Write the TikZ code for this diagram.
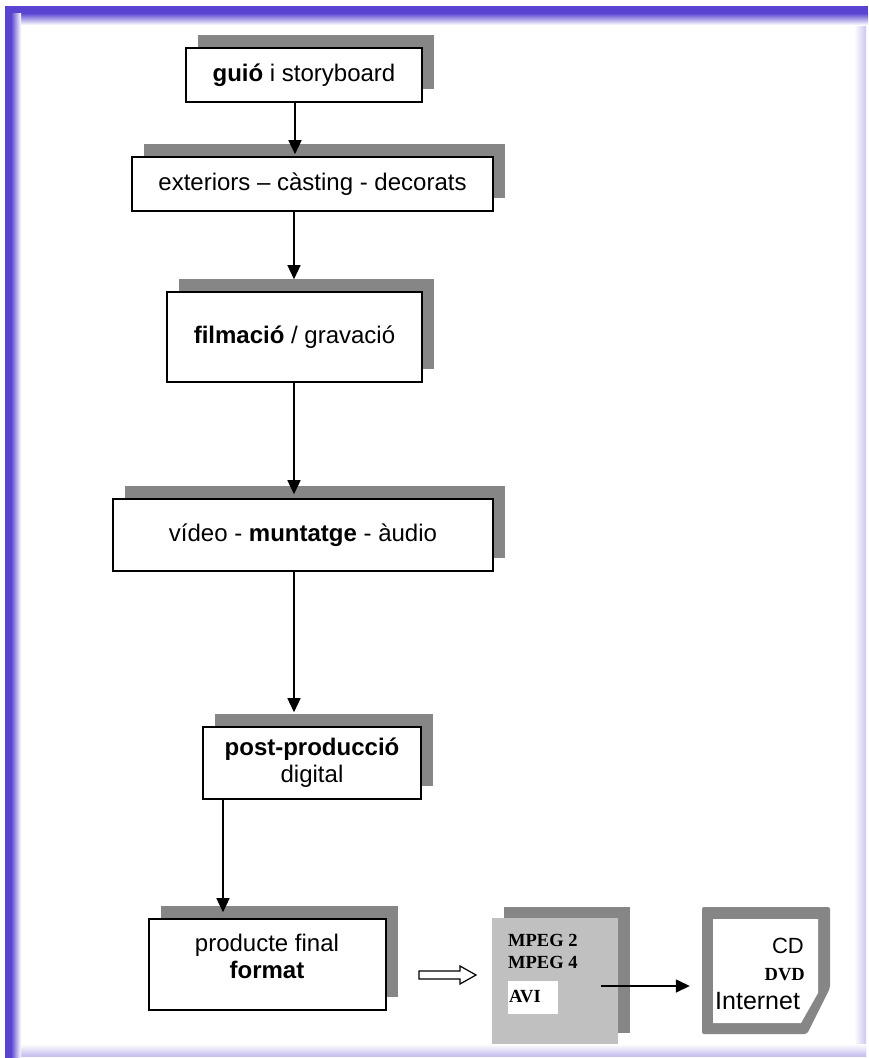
\documentclass[tikz,border=0pt]{standalone}
\usepackage{fontspec}
\setmainfont{Liberation Sans}
\newfontfamily\tnr{Liberation Serif}
\usetikzlibrary{arrows.meta,shadows,calc}
\definecolor{frame}{RGB}{88,68,208}
\definecolor{shadowgray}{RGB}{134,134,134}
\definecolor{lightgray}{RGB}{192,192,192}
\tikzset{
  stagebox/.style={draw=black, line width=1.6pt, fill=white, inner sep=0pt,
    copy shadow={shadow xshift=12pt, shadow yshift=13pt, fill=shadowgray, draw=none}},
  big/.style={font=\fontsize{24}{27}\selectfont},
  arr/.style={line width=1.5pt, -{Triangle[width=13pt,length=14pt]}},
  mpegtxt/.style={font=\tnr\bfseries\fontsize{18.5}{22}\selectfont, align=left, inner sep=0pt},
}
\begin{document}
\begin{tikzpicture}[x=1pt,y=-1pt]
\useasboundingbox (0,0) rectangle (868,1058);
\fill[white] (0,0) rectangle (868,1058);
% frame
\shade[left color=white, right color=frame!30] (854,14) rectangle (866,1056);
\shade[top color=white, bottom color=frame!35] (11,1044) rectangle (866,1056);
\fill[frame] (5,6) rectangle (868,13);
\shade[top color=frame, bottom color=white] (5,13) rectangle (868,25);
\fill[frame] (5,6) rectangle (11,1058);
\shade[left color=frame, right color=white] (11,13) rectangle (21,1058);

% stage boxes
\node[stagebox, minimum width=236, minimum height=54, big] (g) at (304,75)
  {\textbf{guió} i storyboard};
\node[stagebox, minimum width=361, minimum height=54, big] (e) at (312.5,184)
  {exteriors -- càsting - decorats};
\node[stagebox, minimum width=255, minimum height=90, big] (f) at (294.5,337)
  {\textbf{filmació} / gravació};
\node[stagebox, minimum width=380, minimum height=72, big] (v) at (303,535)
  {vídeo - \textbf{muntatge} - àudio};
\node[stagebox, minimum width=218, minimum height=72, big, align=center] (p) at (312,763)
  {\textbf{post-producció}\\digital};
\node[stagebox, minimum width=237, minimum height=91] (fin) at (267.5,964.5) {};
\node[big, align=center, inner sep=0pt] (fintxt) at (267,956)
  {producte final\\\textbf{format}};

% vertical connectors
\coordinate (c1) at (295,0);
\coordinate (c2) at (294,0);
\coordinate (c5) at (223,0);
\draw[arr, shorten >=2pt] (c1 |- g.south) -- (c1 |- e.north);
\draw[arr, shorten >=12pt] (c2 |- e.south) -- (c2 |- f.north);
\draw[arr, shorten >=4pt] (c2 |- f.south) -- (c2 |- v.north);
\draw[arr, shorten >=14pt] (c2 |- v.south) -- (c2 |- p.north);
\draw[arr, shorten >=6pt] (c5 |- p.south) -- (c5 |- fin.north);

% hollow arrow
\draw[line width=1.2pt, fill=white] (419,971) -- (460,971) -- (460,966) -- (476,975)
  -- (460,984) -- (460,979) -- (419,979) -- cycle;

% MPEG box
\node[fill=lightgray, minimum width=126, minimum height=126, inner sep=0pt,
  copy shadow={shadow xshift=12pt, shadow yshift=11pt, fill=shadowgray, draw=none}] (m) at (555,981) {};
\node[mpegtxt, anchor=west] (m2) at (508,940) {MPEG 2};
\node[mpegtxt, anchor=west] (m4) at (508,962) {MPEG 4};
\node[fill=white, minimum width=50, minimum height=33, inner sep=0pt] (avi) at (533,997.5) {};
\node[mpegtxt, anchor=west] (avitxt) at (509,997) {AVI};

% CD box
\node[minimum width=128, minimum height=127, inner sep=0pt] (cd) at (766,970.5) {};
\fill[shadowgray, rounded corners=2pt] (702,907) -- (830,907) -- (830,988) -- (807,1034) -- (702,1034) -- cycle;
\fill[white] (713,919) -- (818,919) -- (818,993) -- (801,1023) -- (713,1023) -- cycle;
\node[anchor=east, inner sep=0pt, font=\fontsize{22}{24}\selectfont] (cdt) at (804,946) {CD};
\node[anchor=east, inner sep=0pt, font=\tnr\bfseries\fontsize{18.5}{22}\selectfont] (dvd) at (805,975) {DVD};
\node[anchor=west, inner sep=0pt, font=\fontsize{25}{27}\selectfont] (inet) at (715,1001) {Internet};

% arrow MPEG -> CD
\coordinate (m1) at (601,986);
\draw[arr, shorten >=12pt] (m1) -- (cd.west |- m1);
\end{tikzpicture}
\end{document}
